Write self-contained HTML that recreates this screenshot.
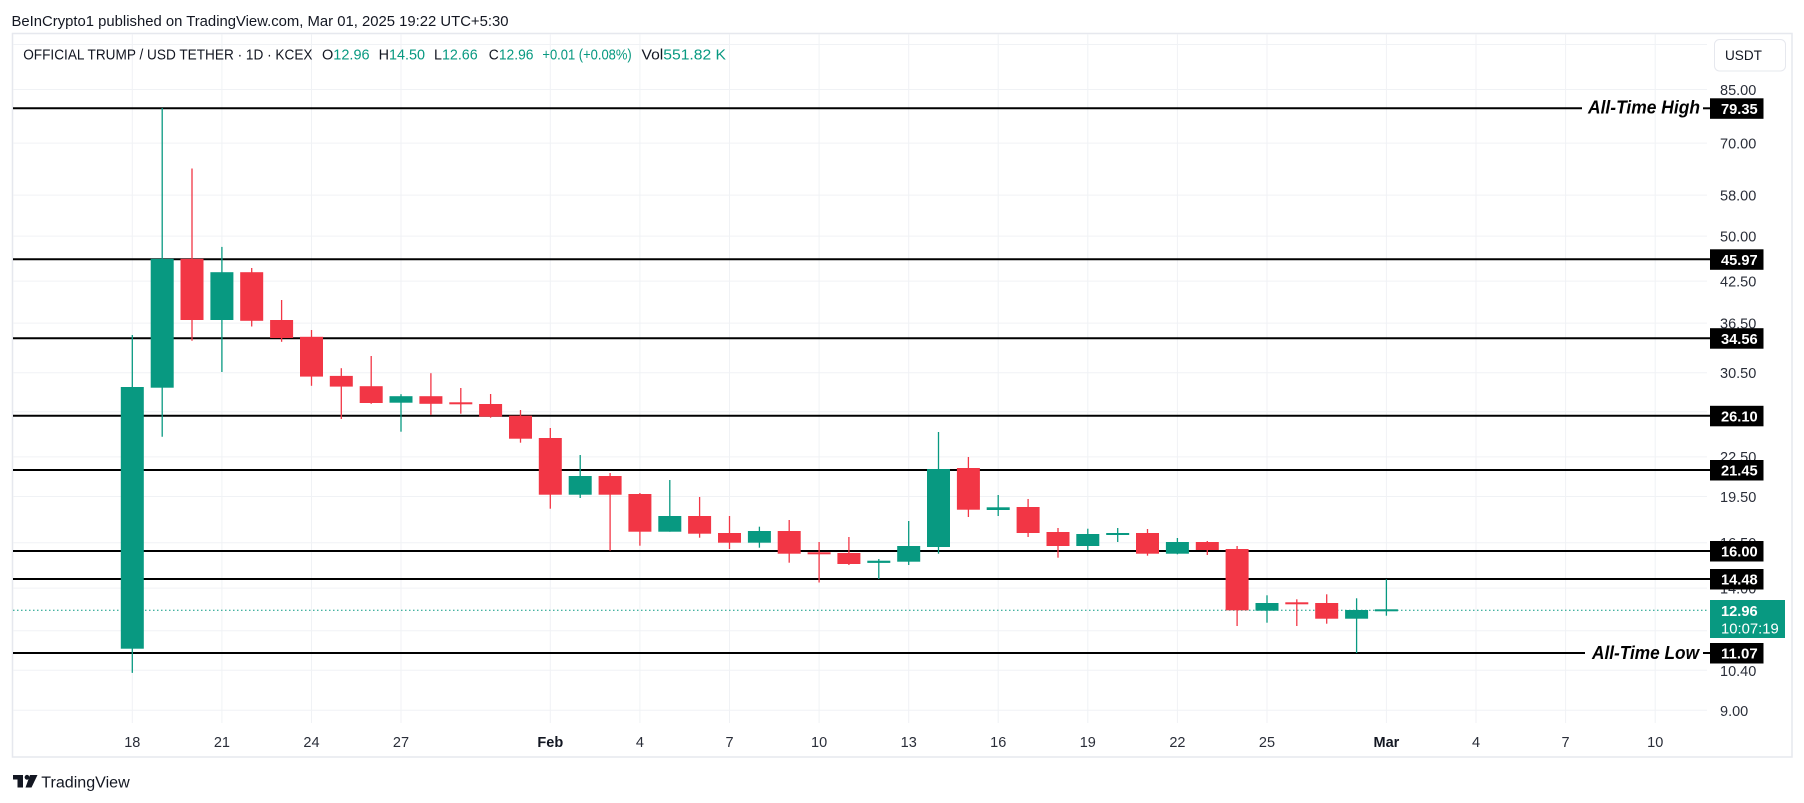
<!DOCTYPE html>
<html><head><meta charset="utf-8"><style>
html,body{margin:0;padding:0;background:#fff;}
svg{display:block;}
text{font-family:"Liberation Sans",Arial,sans-serif;}
</style></head><body>
<svg width="1804" height="803" viewBox="0 0 1804 803" xmlns="http://www.w3.org/2000/svg">
<rect x="0" y="0" width="1804" height="803" fill="#fff"/>
<!-- header -->
<text x="11.5" y="26" font-size="15" fill="#131722" textLength="497" lengthAdjust="spacingAndGlyphs">BeInCrypto1 published on TradingView.com, Mar 01, 2025 19:22 UTC+5:30</text>
<!-- frame -->
<rect x="12.5" y="33.5" width="1779.5" height="723.5" fill="none" stroke="#e6e8ee" stroke-width="1.5"/>
<!-- horizontal grid -->
<g stroke="#f0f2f5" stroke-width="1">
<line x1="13" x2="1707" y1="44.5" y2="44.5"/>
<line x1="13" x2="1707" y1="89.5" y2="89.5"/>
<line x1="13" x2="1707" y1="143.1" y2="143.1"/>
<line x1="13" x2="1707" y1="195.1" y2="195.1"/>
<line x1="13" x2="1707" y1="236.1" y2="236.1"/>
<line x1="13" x2="1707" y1="281.1" y2="281.1"/>
<line x1="13" x2="1707" y1="323.1" y2="323.1"/>
<line x1="13" x2="1707" y1="372.8" y2="372.8"/>
<line x1="13" x2="1707" y1="411.7" y2="411.7"/>
<line x1="13" x2="1707" y1="456.9" y2="456.9"/>
<line x1="13" x2="1707" y1="496.5" y2="496.5"/>
<line x1="13" x2="1707" y1="542.7" y2="542.7"/>
<line x1="13" x2="1707" y1="588.1" y2="588.1"/>
<line x1="13" x2="1707" y1="630.7" y2="630.7"/>
<line x1="13" x2="1707" y1="670.3" y2="670.3"/>
<line x1="13" x2="1707" y1="710.3" y2="710.3"/>
</g>
<!-- vertical grid -->
<g stroke="#f0f2f5" stroke-width="1">
<line x1="132.3" x2="132.3" y1="34" y2="723"/>
<line x1="221.9" x2="221.9" y1="34" y2="723"/>
<line x1="311.5" x2="311.5" y1="34" y2="723"/>
<line x1="401.0" x2="401.0" y1="34" y2="723"/>
<line x1="550.3" x2="550.3" y1="34" y2="723"/>
<line x1="639.9" x2="639.9" y1="34" y2="723"/>
<line x1="729.5" x2="729.5" y1="34" y2="723"/>
<line x1="819.1" x2="819.1" y1="34" y2="723"/>
<line x1="908.7" x2="908.7" y1="34" y2="723"/>
<line x1="998.2" x2="998.2" y1="34" y2="723"/>
<line x1="1087.8" x2="1087.8" y1="34" y2="723"/>
<line x1="1177.4" x2="1177.4" y1="34" y2="723"/>
<line x1="1267.0" x2="1267.0" y1="34" y2="723"/>
<line x1="1386.4" x2="1386.4" y1="34" y2="723"/>
<line x1="1476.0" x2="1476.0" y1="34" y2="723"/>
<line x1="1565.6" x2="1565.6" y1="34" y2="723"/>
<line x1="1655.2" x2="1655.2" y1="34" y2="723"/>
</g>
<!-- legend -->
<text x="23.2" y="59.3" font-size="15" fill="#131722" textLength="289.3" lengthAdjust="spacingAndGlyphs">OFFICIAL TRUMP / USD TETHER · 1D · KCEX</text>
<text x="322" y="59.3" font-size="15" fill="#089981" textLength="47.6" lengthAdjust="spacingAndGlyphs"><tspan fill="#131722">O</tspan>12.96</text>
<text x="378.6" y="59.3" font-size="15" fill="#089981" textLength="46.4" lengthAdjust="spacingAndGlyphs"><tspan fill="#131722">H</tspan>14.50</text>
<text x="434" y="59.3" font-size="15" fill="#089981" textLength="43.7" lengthAdjust="spacingAndGlyphs"><tspan fill="#131722">L</tspan>12.66</text>
<text x="488.8" y="59.3" font-size="15" fill="#089981" textLength="44.7" lengthAdjust="spacingAndGlyphs"><tspan fill="#131722">C</tspan>12.96</text>
<text x="542.4" y="59.3" font-size="15" fill="#089981" textLength="89.3" lengthAdjust="spacingAndGlyphs">+0.01 (+0.08%)</text>
<text x="641.5" y="59.3" font-size="15" fill="#089981" textLength="84.5" lengthAdjust="spacingAndGlyphs"><tspan fill="#131722">Vol</tspan>551.82 K</text>

<!-- level lines -->
<g stroke="#000" stroke-width="2">
<line x1="13" x2="1582" y1="108.3" y2="108.3"/>
<line x1="1703" x2="1710" y1="108.3" y2="108.3"/>
<line x1="13" x2="1710" y1="259.3" y2="259.3"/>
<line x1="13" x2="1710" y1="338.2" y2="338.2"/>
<line x1="13" x2="1710" y1="415.8" y2="415.8"/>
<line x1="13" x2="1710" y1="470" y2="470"/>
<line x1="13" x2="1710" y1="551" y2="551"/>
<line x1="13" x2="1710" y1="579" y2="579"/>
<line x1="13" x2="1585" y1="653" y2="653"/>
<line x1="1703" x2="1710" y1="653" y2="653"/>
</g>
<text x="1588" y="113.5" font-size="18" font-weight="bold" font-style="italic" fill="#000" textLength="112" lengthAdjust="spacingAndGlyphs">All-Time High</text>
<text x="1592" y="659" font-size="18" font-weight="bold" font-style="italic" fill="#000" textLength="107" lengthAdjust="spacingAndGlyphs">All-Time Low</text>

<!-- current price dotted line -->
<line x1="13" x2="1709" y1="610.3" y2="610.3" stroke="#089981" stroke-width="1" stroke-dasharray="1.5 2.5"/>

<!-- wicks -->
<g stroke="#089981" stroke-width="1.3">
<line x1="132.3" x2="132.3" y1="335" y2="672.9"/>
<line x1="162.2" x2="162.2" y1="108" y2="436.7"/>
<line x1="221.9" x2="221.9" y1="246.9" y2="372"/>
<line x1="401.0" x2="401.0" y1="394.2" y2="431.7"/>
<line x1="580.2" x2="580.2" y1="455" y2="498"/>
<line x1="669.8" x2="669.8" y1="480" y2="531.7"/>
<line x1="759.4" x2="759.4" y1="526.7" y2="547.7"/>
<line x1="878.8" x2="878.8" y1="559" y2="579"/>
<line x1="908.7" x2="908.7" y1="521" y2="565"/>
<line x1="938.5" x2="938.5" y1="432" y2="553.7"/>
<line x1="998.2" x2="998.2" y1="495" y2="516"/>
<line x1="1087.8" x2="1087.8" y1="528.7" y2="550"/>
<line x1="1117.7" x2="1117.7" y1="528" y2="542"/>
<line x1="1177.4" x2="1177.4" y1="538" y2="554.3"/>
<line x1="1267.0" x2="1267.0" y1="595.3" y2="622.7"/>
<line x1="1356.6" x2="1356.6" y1="598.3" y2="653"/>
<line x1="1386.4" x2="1386.4" y1="579.3" y2="615.7"/>
</g>
<g stroke="#f23645" stroke-width="1.3">
<line x1="192.0" x2="192.0" y1="168.5" y2="340.7"/>
<line x1="251.7" x2="251.7" y1="268" y2="326.5"/>
<line x1="281.6" x2="281.6" y1="300" y2="341.8"/>
<line x1="311.5" x2="311.5" y1="330" y2="385.8"/>
<line x1="341.3" x2="341.3" y1="368.2" y2="419"/>
<line x1="371.2" x2="371.2" y1="356" y2="403.8"/>
<line x1="430.9" x2="430.9" y1="373.2" y2="414.9"/>
<line x1="460.8" x2="460.8" y1="388" y2="413.7"/>
<line x1="490.6" x2="490.6" y1="394" y2="417.7"/>
<line x1="520.5" x2="520.5" y1="410" y2="442.7"/>
<line x1="550.3" x2="550.3" y1="428" y2="508.7"/>
<line x1="610.1" x2="610.1" y1="473" y2="550.7"/>
<line x1="639.9" x2="639.9" y1="493" y2="545.7"/>
<line x1="699.6" x2="699.6" y1="497" y2="537.7"/>
<line x1="729.5" x2="729.5" y1="516" y2="549"/>
<line x1="789.2" x2="789.2" y1="520" y2="562.7"/>
<line x1="819.1" x2="819.1" y1="542" y2="582.5"/>
<line x1="848.9" x2="848.9" y1="537" y2="565"/>
<line x1="968.4" x2="968.4" y1="457" y2="517"/>
<line x1="1028.1" x2="1028.1" y1="499" y2="537"/>
<line x1="1058.0" x2="1058.0" y1="528" y2="557.7"/>
<line x1="1147.5" x2="1147.5" y1="529" y2="555.7"/>
<line x1="1207.3" x2="1207.3" y1="541" y2="555"/>
<line x1="1237.1" x2="1237.1" y1="546" y2="626"/>
<line x1="1296.8" x2="1296.8" y1="599.3" y2="626"/>
<line x1="1326.7" x2="1326.7" y1="594.3" y2="623.7"/>
</g>
<!-- bodies -->
<g fill="#089981">
<rect x="120.8" y="387" width="23" height="261.7"/>
<rect x="150.7" y="258.8" width="23" height="128.9"/>
<rect x="210.4" y="272.2" width="23" height="47.8"/>
<rect x="389.5" y="396.2" width="23" height="6.5"/>
<rect x="568.7" y="476" width="23" height="18.7"/>
<rect x="658.3" y="516" width="23" height="15.7"/>
<rect x="747.9" y="531" width="23" height="11.7"/>
<rect x="867.3" y="560.7" width="23" height="2.2"/>
<rect x="897.2" y="546" width="23" height="15.7"/>
<rect x="927" y="469" width="23" height="78"/>
<rect x="986.7" y="507.3" width="23" height="2.7"/>
<rect x="1076.3" y="534" width="23" height="12"/>
<rect x="1106.2" y="533" width="23" height="2"/>
<rect x="1165.9" y="542" width="23" height="11.7"/>
<rect x="1255.5" y="603" width="23" height="7.7"/>
<rect x="1345.1" y="610" width="23" height="8.7"/>
<rect x="1374.9" y="609.3" width="23" height="2"/>
</g>
<g fill="#f23645">
<rect x="180.5" y="258.8" width="23" height="61.2"/>
<rect x="240.2" y="272.2" width="23" height="48.6"/>
<rect x="270.1" y="320" width="23" height="18"/>
<rect x="300" y="336.8" width="23" height="39.8"/>
<rect x="329.8" y="375.9" width="23" height="10.7"/>
<rect x="359.7" y="386.2" width="23" height="16.8"/>
<rect x="419.4" y="396.2" width="23" height="7.6"/>
<rect x="449.3" y="402.3" width="23" height="2"/>
<rect x="479.1" y="404" width="23" height="12.7"/>
<rect x="509" y="415.7" width="23" height="23"/>
<rect x="538.8" y="438" width="23" height="56.7"/>
<rect x="598.6" y="476" width="23" height="18.7"/>
<rect x="628.4" y="494" width="23" height="37.7"/>
<rect x="688.1" y="516" width="23" height="17.7"/>
<rect x="718" y="533" width="23" height="9.7"/>
<rect x="777.7" y="531" width="23" height="22.7"/>
<rect x="807.6" y="552.3" width="23" height="2"/>
<rect x="837.4" y="553" width="23" height="11"/>
<rect x="956.9" y="468" width="23" height="41.7"/>
<rect x="1016.6" y="507" width="23" height="26"/>
<rect x="1046.5" y="532" width="23" height="14"/>
<rect x="1136" y="533" width="23" height="20.7"/>
<rect x="1195.8" y="542" width="23" height="8"/>
<rect x="1225.6" y="549" width="23" height="61.3"/>
<rect x="1285.3" y="602.3" width="23" height="2"/>
<rect x="1315.2" y="603" width="23" height="15.7"/>
</g>

<!-- price axis tick labels -->
<g font-size="14.5" fill="#2a2e39">
<text x="1720" y="95">85.00</text>
<text x="1720" y="148.5">70.00</text>
<text x="1720" y="200.5">58.00</text>
<text x="1720" y="241.5">50.00</text>
<text x="1720" y="286.5">42.50</text>
<text x="1720" y="328.5">36.50</text>
<text x="1720" y="378">30.50</text>
<text x="1720" y="462">22.50</text>
<text x="1720" y="502">19.50</text>
<text x="1720" y="548">16.50</text>
<text x="1720" y="593.5">14.00</text>
<text x="1720" y="676">10.40</text>
<text x="1720" y="716">9.00</text>
</g>
<!-- USDT button -->
<rect x="1714.5" y="39.5" width="71" height="31.5" rx="5" fill="#fff" stroke="#e6e8ee" stroke-width="1"/>
<text x="1725" y="60" font-size="14" fill="#131722" textLength="37" lengthAdjust="spacingAndGlyphs">USDT</text>

<!-- level labels -->
<g fill="#000">
<rect x="1710" y="98.3" width="53.5" height="20.5"/>
<rect x="1710" y="249.3" width="53.5" height="20.5"/>
<rect x="1710" y="328.2" width="53.5" height="20.5"/>
<rect x="1710" y="405.8" width="53.5" height="20.5"/>
<rect x="1710" y="460" width="53.5" height="20.5"/>
<rect x="1710" y="541" width="53.5" height="20.5"/>
<rect x="1710" y="569" width="53.5" height="20.5"/>
<rect x="1710" y="643" width="53.5" height="20.5"/>
</g>
<g font-size="15" font-weight="bold" fill="#fff">
<text x="1721" y="114" textLength="36.7" lengthAdjust="spacingAndGlyphs">79.35</text>
<text x="1721" y="265" textLength="36.7" lengthAdjust="spacingAndGlyphs">45.97</text>
<text x="1721" y="344" textLength="36.7" lengthAdjust="spacingAndGlyphs">34.56</text>
<text x="1721" y="421.5" textLength="36.7" lengthAdjust="spacingAndGlyphs">26.10</text>
<text x="1721" y="475.7" textLength="36.7" lengthAdjust="spacingAndGlyphs">21.45</text>
<text x="1721" y="556.7" textLength="36.7" lengthAdjust="spacingAndGlyphs">16.00</text>
<text x="1721" y="584.7" textLength="36.7" lengthAdjust="spacingAndGlyphs">14.48</text>
<text x="1721" y="658.7" textLength="36.7" lengthAdjust="spacingAndGlyphs">11.07</text>
</g>
<!-- current price label -->
<rect x="1710" y="600" width="75" height="38" fill="#089981"/>
<text x="1721" y="616" font-size="15" font-weight="bold" fill="#fff" textLength="36.7" lengthAdjust="spacingAndGlyphs">12.96</text>
<text x="1721" y="633.5" font-size="15" fill="#fff" textLength="57.7" lengthAdjust="spacingAndGlyphs">10:07:19</text>

<!-- time axis labels -->
<g font-size="14.5" fill="#2a2e39" text-anchor="middle">
<text x="132.3" y="747">18</text>
<text x="221.9" y="747">21</text>
<text x="311.5" y="747">24</text>
<text x="401.0" y="747">27</text>
<text x="550.3" y="747" font-weight="bold" fill="#131722">Feb</text>
<text x="639.9" y="747">4</text>
<text x="729.5" y="747">7</text>
<text x="819.1" y="747">10</text>
<text x="908.7" y="747">13</text>
<text x="998.2" y="747">16</text>
<text x="1087.8" y="747">19</text>
<text x="1177.4" y="747">22</text>
<text x="1267.0" y="747">25</text>
<text x="1386.4" y="747" font-weight="bold" fill="#131722">Mar</text>
<text x="1476.0" y="747">4</text>
<text x="1565.6" y="747">7</text>
<text x="1655.2" y="747">10</text>
</g>

<!-- TradingView logo -->
<g fill="#131722">
<rect x="13" y="775" width="10" height="4.5"/>
<rect x="17.5" y="775" width="5.5" height="12.5"/>
<circle cx="27" cy="777.3" r="2.4"/>
<polygon points="30,775 37.5,775 31.5,787.5 25.5,787.5"/>
</g>
<text x="41.3" y="787.3" font-size="15.5" fill="#131722" textLength="88.4" lengthAdjust="spacingAndGlyphs">TradingView</text>
</svg>
</body></html>
